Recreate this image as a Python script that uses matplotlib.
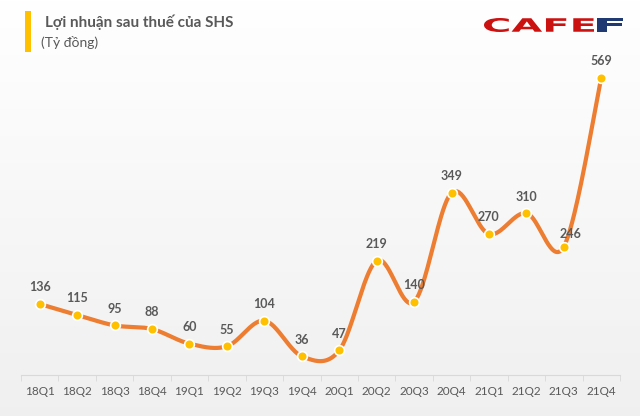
import numpy as np
import matplotlib.pyplot as plt
from matplotlib.textpath import TextPath
from matplotlib.patches import PathPatch, Rectangle
from matplotlib.font_manager import FontProperties
from matplotlib.transforms import Affine2D

quarters = ["18Q1", "18Q2", "18Q3", "18Q4", "19Q1", "19Q2", "19Q3", "19Q4",
            "20Q1", "20Q2", "20Q3", "20Q4", "21Q1", "21Q2", "21Q3", "21Q4"]
profit = [136, 115, 95, 88, 60, 55, 104, 36, 47, 219, 140, 349, 270, 310, 246, 569]

line_color = "#ED7D31"
marker_color = "#FFC000"
text_color = "#595959"


def smooth_curve(x, y, n=40):
    # excel-like smoothing: cubic bezier with catmull-rom control points
    pts = np.column_stack([x, y]).astype(float)
    ext = np.vstack([pts[0], pts, pts[-1]])
    out = []
    for i in range(len(pts) - 1):
        p0, p1, p2, p3 = ext[i], ext[i + 1], ext[i + 2], ext[i + 3]
        b1 = p1 + (p2 - p0) / 6
        b2 = p2 - (p3 - p1) / 6
        t = np.linspace(0, 1, n)[:, None]
        seg = ((1 - t) ** 3 * p1 + 3 * (1 - t) ** 2 * t * b1
               + 3 * (1 - t) * t ** 2 * b2 + t ** 3 * p2)
        out.append(seg if i == 0 else seg[1:])
    out = np.vstack(out)
    return out[:, 0], out[:, 1]


def logo_text(ax, txt, box, color):
    # squeeze a bold text path into a pixel box (x0, x1, ytop, ybottom)
    fp = FontProperties(family="DejaVu Sans", weight="bold")
    tp = TextPath((0, 0), txt, size=20, prop=fp)
    ext = tp.get_extents()
    x0, x1, yt, yb = box
    sx = (x1 - x0) / ext.width
    sy = (yb - yt) / ext.height
    tr = (Affine2D().translate(-ext.x0, -ext.y0).scale(sx, -sy)
          .translate(x0, yb))
    ax.add_patch(PathPatch(tr.transform_path(tp), color=color, lw=0))


fig = plt.figure(figsize=(6.4, 4.16), dpi=100)

# background gradient + decorations in pixel coords
bg = fig.add_axes([0, 0, 1, 1], zorder=-1)
grad = np.linspace(1.0, 0.94, 256)[:, None]
bg.imshow(np.dstack([grad, grad, grad]), aspect="auto", extent=[0, 640, 416, 0])
bg.set_xlim(0, 640)
bg.set_ylim(416, 0)
bg.axis("off")
bg.add_patch(Rectangle((25, 11), 6, 41, color=marker_color, lw=0))

logo_text(bg, "CAFE", (484, 594, 18, 32), "#CC1111")
logo_text(bg, "F", (597, 623, 18, 32), "#1F3A73")

fig.text(45 / 640, 1 - 26.5 / 416, "Lợi nhuận sau thuế của SHS", family="Lato",
         weight="bold", fontsize=11, color=text_color, va="baseline")
fig.text(41 / 640, 1 - 47 / 416, "(Tỷ đồng)", family="Lato",
         fontsize=10, color=text_color, va="baseline")

ax = fig.add_axes([21 / 640, 41 / 416, 599 / 640, 308 / 416])
ax.patch.set_alpha(0)
x = np.arange(len(quarters))
sx, sy = smooth_curve(x, profit)
ax.plot(sx, sy, color=line_color, lw=3, solid_capstyle="round", zorder=2)
ax.plot(x, profit, "o", ms=7, mfc=marker_color, mec="white", mew=1.2, zorder=3)

for i, v in enumerate(profit):
    dx, dy = (0, 12)
    if v == 246:
        dx, dy = (5, 9)
    ax.annotate(str(v), (i, v), xytext=(dx, dy), textcoords="offset points",
                ha="center", va="center", family="Lato", weight="bold",
                fontsize=9, color=text_color)

ax.set_xlim(-0.5, len(quarters) - 0.5)
ax.set_ylim(0, 590)
ax.set_xticks(x)
ax.set_xticklabels(quarters, family="Lato", fontsize=8.5, color=text_color)
ax.tick_params(axis="x", which="major", length=0, pad=8)
ax.set_xticks(np.arange(-0.5, len(quarters)), minor=True)
ax.tick_params(axis="x", which="minor", length=4, color="#D9D9D9")
ax.set_yticks([])
for s in ["top", "right", "left"]:
    ax.spines[s].set_visible(False)
ax.spines["bottom"].set_color("#D9D9D9")

fig.savefig("out.png", dpi=100)
